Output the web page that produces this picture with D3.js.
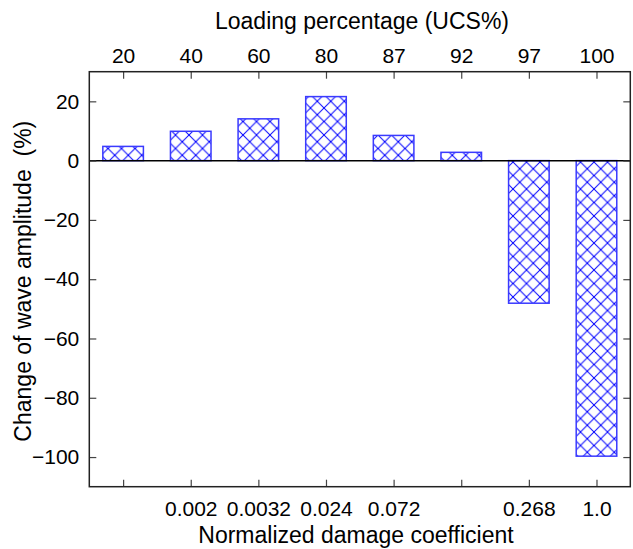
<!DOCTYPE html>
<html>
<head>
<meta charset="utf-8">
<script src="https://cdn.jsdelivr.net/npm/d3@7"></script>
<style>
  html, body { margin: 0; padding: 0; background: #fff; }
  text { font-family: "Liberation Sans", Arial, sans-serif; }
</style>
</head>
<body>
<svg id="chart" width="633" height="549"></svg>
<script>
const loadingLabels = ["20", "40", "60", "80", "87", "92", "97", "100"];
const damageLabels = ["", "0.002", "0.0032", "0.024", "0.072", "", "0.268", "1.0"];
const amplitudeChange = [4.8, 9.9, 14.1, 21.6, 8.5, 2.8, -48.1, -99.7];
const yTicks = [-100, -80, -60, -40, -20, 0, 20];

const svg = d3.select("#chart");
const m = { left: 89.3, right: 630.3, top: 71.7, bottom: 486.7 };

const x = d3.scaleLinear().domain([-0.5, 7.5]).range([m.left, m.right]);
const y = d3.scaleLinear().domain([-110, 30]).range([m.bottom, m.top]);
const idx = d3.range(loadingLabels.length);

// hatch pattern
const defs = svg.append("defs");
const p = 13.5;
const pat = defs.append("pattern")
  .attr("id", "hatch").attr("patternUnits", "userSpaceOnUse")
  .attr("width", p).attr("height", p);
pat.append("path")
  .attr("d", `M0,0L${p},${p}M0,${p}L${p},0M${-p/2},${p/2}L${p/2},${-p/2}M${p/2},${p*1.5}L${p*1.5},${p/2}M${-p/2},${p/2}L${p/2},${p*1.5}M${p/2},${-p/2}L${p*1.5},${p/2}`)
  .attr("stroke", "#0000ff").attr("stroke-width", 1).attr("fill", "none");

// bars
const bw = 0.6;
svg.append("g").selectAll("rect").data(idx).join("rect")
  .attr("x", i => x(i - bw / 2))
  .attr("width", i => x(i + bw / 2) - x(i - bw / 2))
  .attr("y", i => y(Math.max(0, amplitudeChange[i])))
  .attr("height", i => Math.abs(y(amplitudeChange[i]) - y(0)))
  .attr("fill", "url(#hatch)")
  .attr("stroke", "#3a3aff").attr("stroke-width", 1.5);

// zero line
svg.append("line")
  .attr("x1", m.left).attr("x2", m.right)
  .attr("y1", y(0)).attr("y2", y(0))
  .attr("stroke", "#000").attr("stroke-width", 1.5);

const tickLen = 7;
const tickColor = "#444";
const tickFont = "21px";

// left axis
const yLeft = d3.axisLeft(y).tickValues(yTicks).tickSize(-tickLen).tickPadding(10).tickFormat(d3.format("d"));
const gl = svg.append("g").attr("transform", `translate(${m.left},0)`).call(yLeft);
// right axis ticks
const yRight = d3.axisRight(y).tickValues(yTicks).tickSize(-tickLen).tickFormat("");
const gr = svg.append("g").attr("transform", `translate(${m.right},0)`).call(yRight);
// bottom axis
const xBottom = d3.axisBottom(x).tickValues(idx).tickSize(-tickLen).tickPadding(14).tickFormat(i => damageLabels[i]);
const gb = svg.append("g").attr("transform", `translate(0,${m.bottom})`).call(xBottom);
// top axis
const xTop = d3.axisTop(x).tickValues(idx).tickSize(-tickLen).tickPadding(9).tickFormat(i => loadingLabels[i]);
const gt = svg.append("g").attr("transform", `translate(0,${m.top})`).call(xTop);

[gl, gr, gb, gt].forEach(g => {
  g.select(".domain").remove();
  g.selectAll(".tick line").attr("stroke", tickColor).attr("stroke-width", 1.2);
  g.selectAll(".tick text").attr("fill", "#000").style("font-size", tickFont)
    .style("font-family", "'Liberation Sans', Arial, sans-serif");
});

// frame
svg.append("rect")
  .attr("x", m.left).attr("y", m.top)
  .attr("width", m.right - m.left).attr("height", m.bottom - m.top)
  .attr("fill", "none").attr("stroke", "#222").attr("stroke-width", 1.5);

// titles
svg.append("text").attr("x", 362).attr("y", 29)
  .attr("text-anchor", "middle").style("font-size", "23px").text("Loading percentage (UCS%)");
svg.append("text").attr("x", 356).attr("y", 543)
  .attr("text-anchor", "middle").style("font-size", "23px").text("Normalized damage coefficient");
svg.append("text")
  .attr("transform", `translate(31,${(m.top + m.bottom) / 2 + 2}) rotate(-90)`)
  .attr("text-anchor", "middle").style("font-size", "23px").style("white-space", "pre")
  .attr("xml:space", "preserve")
  .text("Change of wave amplitude  (%)");
</script>
</body>
</html>
